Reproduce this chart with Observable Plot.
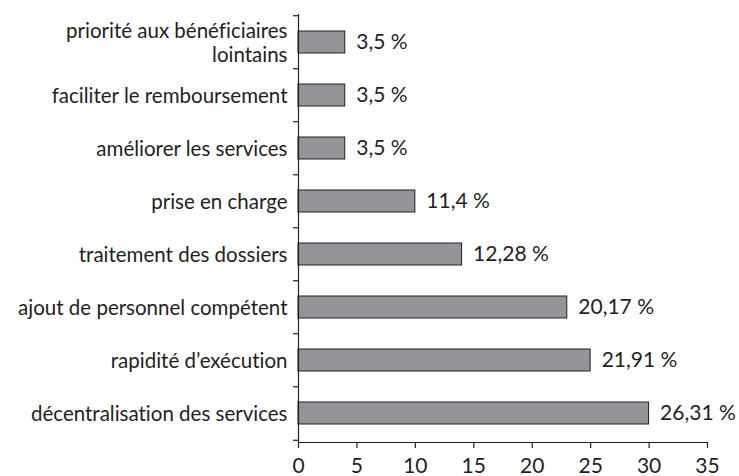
<!DOCTYPE html>
<html>
<head>
<meta charset="utf-8">
<script src="https://cdn.jsdelivr.net/npm/d3@7"></script>
<script src="https://cdn.jsdelivr.net/npm/@observablehq/plot@0.6"></script>
<style>
  html, body { margin: 0; padding: 0; background: #fff; }
  #chart svg { display: block; font-variant-ligatures: none; }
  #chart svg text { font-variant-ligatures: none; font-feature-settings: "liga" 0, "clig" 0; }
</style>
</head>
<body>
<div id="chart"></div>
<script>
const categories = [
  "priorité aux bénéficiaires\nlointains",
  "faciliter le remboursement",
  "améliorer les services",
  "prise en charge",
  "traitement des dossiers",
  "ajout de personnel compétent",
  "rapidité d’exécution",
  "décentralisation des services"
];
const counts = [4, 4, 4, 10, 14, 23, 25, 30];
const percentLabels = ["3,5 %", "3,5 %", "3,5 %", "11,4 %", "12,28 %", "20,17 %", "21,91 %", "26,31 %"];
const xTicks = [0, 5, 10, 15, 20, 25, 30, 35];

const data = categories.map((c, i) => ({cat: c, count: counts[i], label: percentLabels[i]}));

const ink = "#231f20";
const font = "Lato, 'Open Sans', sans-serif";
const halfStep = 26.75;

const chart = Plot.plot({
  width: 739,
  height: 476,
  marginLeft: 298,
  marginRight: 32,
  marginTop: 14,
  marginBottom: 34,
  style: {fontFamily: font, color: ink, background: "#fff"},
  x: {domain: [0, 35], axis: null, label: null},
  y: {domain: categories, paddingInner: 0.58, paddingOuter: 0.29, axis: null, label: null},
  marks: [
    Plot.barX(data, {x: "count", y: "cat", fill: "#939598", stroke: ink, strokeWidth: 1}),
    Plot.text(data, {x: "count", y: "cat", text: "label", textAnchor: "start", dx: 11, fontSize: 21, fill: ink}),
    Plot.frame({anchor: "left", stroke: ink, strokeWidth: 1.2}),
    Plot.frame({anchor: "bottom", stroke: ink, strokeWidth: 1.2}),
    Plot.ruleY(categories, {y: d => d, x1: () => -0.43, x2: () => 0, dy: -halfStep, stroke: ink, strokeWidth: 1.2}),
    Plot.ruleY(categories.slice(-1), {y: d => d, x1: () => -0.43, x2: () => 0, dy: halfStep, stroke: ink, strokeWidth: 1.2}),
    Plot.axisY({tickSize: 0, tickPadding: 11, fontSize: 20.5, lineHeight: 1.15, fill: ink, label: null}),
    Plot.axisX({ticks: xTicks, tickSize: 6, tickPadding: 10, fontSize: 21, stroke: ink, fill: ink, strokeWidth: 1.2, label: null})
  ]
});
document.getElementById("chart").appendChild(chart);
</script>
</body>
</html>
